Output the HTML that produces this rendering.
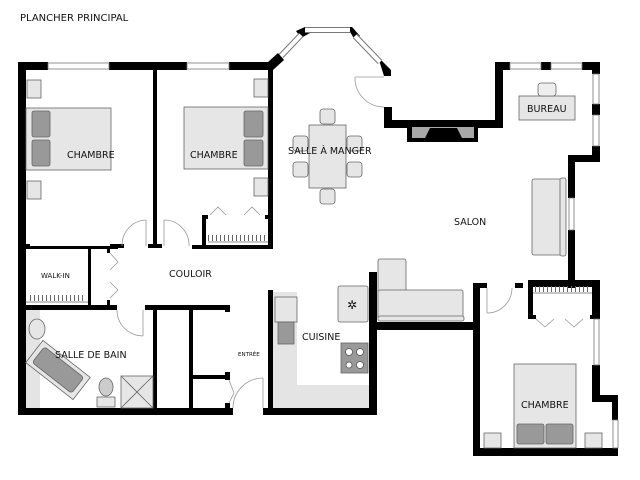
<!DOCTYPE html>
<html><head><meta charset="utf-8"><style>
html,body{margin:0;padding:0;background:#fff;width:640px;height:480px;overflow:hidden}
svg{display:block}
text{font-family:"DejaVu Sans","Liberation Sans",sans-serif;fill:#111}
</style></head><body>
<svg width="640" height="480" viewBox="0 0 640 480" xmlns="http://www.w3.org/2000/svg">
<text x="20" y="21" font-size="10">PLANCHER PRINCIPAL</text>

<rect x="26" y="310" width="14" height="98" fill="#e4e4e4"/>
<rect x="273" y="292" width="24" height="116" fill="#e4e4e4"/>
<rect x="273" y="385" width="96" height="23" fill="#e4e4e4"/>

<g fill="#000">
<rect x="18" y="62" width="8" height="353"/>
<rect x="18" y="62" width="30" height="8"/>
<rect x="109" y="62" width="78" height="8"/>
<rect x="229" y="62" width="44" height="8"/>
<rect x="153" y="70" width="4" height="178"/>
<rect x="268" y="62" width="5" height="186"/>
<polygon points="268,62 278,53 284,60 273,70"/>
<polygon points="296,31 305,27 310,33 301,38"/>
<polygon points="347,27 352,27 360,36 355,40"/>
<polygon points="378,57 384,63 391,70 391,76 384,76"/>
<rect x="384" y="107" width="8" height="21"/>
<rect x="384" y="120" width="118" height="8"/>
<rect x="495" y="62" width="8" height="66"/>
<rect x="495" y="62" width="15" height="8"/>
<rect x="541" y="62" width="10" height="8"/>
<rect x="582" y="62" width="18" height="8"/>
<rect x="592" y="62" width="8" height="12"/>
<rect x="592" y="104" width="8" height="11"/>
<rect x="592" y="146" width="8" height="16"/>
<rect x="568" y="155" width="32" height="7"/>
<rect x="568" y="155" width="7" height="43"/>
<rect x="568" y="230" width="7" height="58"/>
<rect x="528" y="280" width="72" height="7"/>
<rect x="592" y="280" width="8" height="38"/>
<rect x="592" y="365" width="8" height="37"/>
<rect x="592" y="395" width="26" height="7"/>
<rect x="612" y="395" width="6" height="25"/>
<rect x="473" y="448" width="145" height="8"/>
<rect x="473" y="283" width="7" height="173"/>
<rect x="473" y="283" width="14" height="5"/>
<rect x="515" y="283" width="8" height="5"/>
<rect x="528" y="283" width="5" height="36"/>
<rect x="592" y="283" width="8" height="36"/>
<rect x="369" y="272" width="8" height="143"/>
<rect x="369" y="322" width="111" height="8"/>
<rect x="268" y="290" width="5" height="125"/>
<rect x="18" y="408" width="215" height="7"/>
<rect x="263" y="408" width="114" height="7"/>
<rect x="18" y="305" width="99" height="5"/>
<rect x="145" y="305" width="85" height="5"/>
<rect x="153" y="305" width="4" height="110"/>
<rect x="189" y="305" width="4" height="110"/>
<rect x="189" y="375" width="40" height="4"/>
<rect x="225" y="305" width="5" height="7"/>
<rect x="225" y="372" width="5" height="8"/>
<rect x="225" y="403" width="5" height="8"/>
<rect x="26" y="246" width="92" height="3"/>
<rect x="88" y="249" width="3" height="56"/>
<rect x="107" y="249" width="3" height="4"/>
<rect x="107" y="300" width="3" height="5"/>
<rect x="26" y="244" width="4" height="4"/>
<rect x="110" y="244" width="14" height="4"/>
<rect x="148" y="244" width="14" height="4"/>
<rect x="192" y="245" width="81" height="4"/>
<rect x="202" y="215" width="4" height="32"/>
<rect x="202" y="215" width="6" height="4"/>
<rect x="265" y="215" width="5" height="4"/>
<rect x="528" y="315" width="8" height="4"/>
<rect x="590" y="315" width="8" height="4"/>
</g>

<g fill="#fff" stroke="#777" stroke-width="0.8">
<rect x="48" y="63" width="61" height="6"/>
<rect x="187" y="63" width="42" height="6"/>
<rect x="510" y="63" width="31" height="6"/>
<rect x="551" y="63" width="31" height="6"/>
<rect x="593" y="74" width="6" height="30"/>
<rect x="593" y="115" width="6" height="31"/>
<rect x="569" y="198" width="5" height="32"/>
<rect x="594" y="319" width="5" height="46"/>
<rect x="613" y="420" width="5" height="28"/>
</g>
<g stroke="#777" stroke-width="6" fill="none">
<line x1="281" y1="56" x2="301" y2="35"/>
<line x1="305" y1="30" x2="350" y2="30"/>
<line x1="355" y1="36" x2="380" y2="62"/>
</g>
<g stroke="#fff" stroke-width="4" fill="none">
<line x1="281" y1="56" x2="301" y2="35"/>
<line x1="305" y1="30" x2="350" y2="30"/>
<line x1="355" y1="36" x2="380" y2="62"/>
</g>

<rect x="407" y="127" width="71" height="15" fill="#000"/>
<polygon points="412,127 474,127 474,138 462,138 457,128 430,128 425,138 412,138" fill="#a8a8a8"/>

<g fill="none" stroke="#999" stroke-width="0.8">
<path d="M355,77 L384,77 M355,77 A29,29 0 0 0 384,107"/>
<path d="M146,220 L146,246 M146,220 A25,25 0 0 0 122,246"/>
<path d="M164,220 L164,246 M164,220 A25,25 0 0 1 189,246"/>
<path d="M143,310 L143,336 M143,336 A26,26 0 0 1 117,310"/>
<path d="M263,378 L263,408 M263,378 A30,30 0 0 0 233,408"/>
<path d="M487,288 L487,313 M487,313 A25,25 0 0 0 512,288"/>
<path d="M110,253 L118,262 L110,270 M110,282 L118,290 L110,298"/>
<path d="M210,215 L218,207 L226,215 M244,215 L252,207 L260,215"/>
<path d="M536,319 L545,327 L554,319 M565,319 L574,327 L583,319"/>
<path d="M229,380 L234,393 L229,403"/>
</g>
<g stroke="#666" stroke-width="0.7">
<line x1="208" y1="242" x2="268" y2="242"/>
<line x1="26" y1="302" x2="88" y2="302"/>
<line x1="533" y1="293" x2="592" y2="293"/>
</g>
<g stroke="#666" stroke-width="0.6" stroke-dasharray="1,3">
<line x1="208" y1="238" x2="268" y2="238" stroke-width="6"/>
<line x1="30" y1="298" x2="86" y2="298" stroke-width="6"/>
<line x1="535" y1="289" x2="590" y2="289" stroke-width="6"/>
</g>

<g stroke="#666" stroke-width="0.8">
<rect x="26" y="108" width="85" height="62" fill="#e6e6e6"/>
<rect x="32" y="111" width="18" height="26" rx="2" fill="#999"/>
<rect x="32" y="140" width="18" height="26" rx="2" fill="#999"/>
<rect x="27" y="80" width="14" height="18" fill="#e6e6e6"/>
<rect x="27" y="181" width="14" height="18" fill="#e6e6e6"/>
<rect x="184" y="107" width="84" height="62" fill="#e6e6e6"/>
<rect x="244" y="111" width="19" height="26" rx="2" fill="#999"/>
<rect x="244" y="140" width="19" height="26" rx="2" fill="#999"/>
<rect x="254" y="79" width="14" height="18" fill="#e6e6e6"/>
<rect x="254" y="178" width="14" height="18" fill="#e6e6e6"/>
<rect x="309" y="125" width="37" height="63" fill="#e6e6e6"/>
<rect x="320" y="109" width="15" height="15" rx="3" fill="#e6e6e6"/>
<rect x="320" y="189" width="15" height="15" rx="3" fill="#e6e6e6"/>
<rect x="293" y="136" width="15" height="15" rx="3" fill="#e6e6e6"/>
<rect x="293" y="162" width="15" height="15" rx="3" fill="#e6e6e6"/>
<rect x="347" y="136" width="15" height="15" rx="3" fill="#e6e6e6"/>
<rect x="347" y="162" width="15" height="15" rx="3" fill="#e6e6e6"/>
<rect x="519" y="96" width="56" height="24" fill="#e6e6e6"/>
<rect x="538" y="83" width="18" height="13" rx="3" fill="#eee"/>
<rect x="532" y="179" width="32" height="76" rx="2" fill="#e6e6e6"/>
<rect x="560" y="178" width="6" height="78" rx="2" fill="#e6e6e6"/>
<rect x="378" y="259" width="28" height="60" rx="2" fill="#e6e6e6"/>
<rect x="378" y="290" width="85" height="29" rx="2" fill="#e6e6e6"/>
<rect x="378" y="316" width="86" height="5" rx="2" fill="#e6e6e6"/>
<rect x="338" y="286" width="30" height="36" rx="2" fill="#e6e6e6"/>
<rect x="341" y="343" width="27" height="30" fill="#999"/>
<rect x="275" y="297" width="22" height="25" fill="#e6e6e6"/>
<rect x="278" y="322" width="16" height="22" fill="#999"/>
<rect x="28" y="356" width="60" height="28" fill="#e6e6e6" transform="rotate(38 58 370)"/>
<rect x="33" y="360" width="50" height="20" rx="3" fill="#999" transform="rotate(38 58 370)"/>
<ellipse cx="37" cy="329" rx="8" ry="10" fill="#e6e6e6"/>
<ellipse cx="106" cy="387" rx="7" ry="9" fill="#ccc"/>
<rect x="97" y="397" width="18" height="10" fill="#e6e6e6"/>
<rect x="121" y="376" width="32" height="32" fill="#e6e6e6"/>
<line x1="121" y1="376" x2="153" y2="408"/><line x1="153" y1="376" x2="121" y2="408"/>
<rect x="514" y="364" width="62" height="84" fill="#e6e6e6"/>
<rect x="517" y="424" width="27" height="20" rx="2" fill="#999"/>
<rect x="546" y="424" width="27" height="20" rx="2" fill="#999"/>
<rect x="484" y="433" width="17" height="15" fill="#e6e6e6"/>
<rect x="585" y="433" width="17" height="15" fill="#e6e6e6"/>
</g>
<g fill="#fff" stroke="#555" stroke-width="0.8">
<circle cx="349" cy="352" r="3.5"/><circle cx="360" cy="352" r="3.5"/>
<circle cx="349" cy="365" r="3"/><circle cx="360" cy="365" r="3.5"/>
</g>
<text x="352" y="309" font-size="12" text-anchor="middle" fill="#444">✲</text>

<g font-size="9.5">
<text x="67" y="158">CHAMBRE</text>
<text x="190" y="158">CHAMBRE</text>
<text x="288" y="154">SALLE À MANGER</text>
<text x="527" y="112">BUREAU</text>
<text x="454" y="225">SALON</text>
<text x="169" y="277">COULOIR</text>
<text x="302" y="340">CUISINE</text>
<text x="55" y="358">SALLE DE BAIN</text>
<text x="521" y="408">CHAMBRE</text>
<text x="41" y="278" font-size="7">WALK-IN</text>
<text x="238" y="356" font-size="5.5">ENTRÉE</text>
</g>
</svg>
</body></html>
